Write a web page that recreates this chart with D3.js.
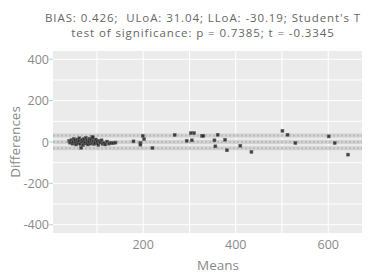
<!DOCTYPE html>
<html>
<head>
<meta charset="utf-8">
<script src="https://cdn.jsdelivr.net/npm/d3@7"></script>
<style>
  body { margin: 0; background: #fff; }
  svg text { font-family: "Open Sans", sans-serif; }
</style>
</head>
<body>
<div id="chart"></div>
<script>
var W = 372, H = 273;
var margin = {top: 51, right: 10, bottom: 40, left: 53};

var titleLines = ["BIAS: 0.426;  ULoA: 31.04; LLoA: -30.19; Student's T",
                  "test of significance: p = 0.7385; t = -0.3345"];
var xTicks = [200, 400, 600];
var yTicks = [-400, -200, 0, 200, 400];
var refLines = [31.04, 0.426, -30.19];

// means / differences
var means = [40,42,45,47,48,50,52,53,55,56,58,60,61,62,64,65,66,67,68,70,
             71,72,74,75,76,78,79,80,82,83,84,86,87,88,90,90,91,92,94,95,
             96,98,100,101,103,105,107,110,112,115,118,122,126,130,135,140,
             179,194,194,199,202,220,268,294,303,310,305,327,330,354,356,361,
             377,381,410,434,501,512,529,601,614,643];
var diffs = [5,-3,10,-8,2,15,-5,8,-12,0,12,-6,4,18,-10,6,-28,-2,10,-15,
             3,14,-7,1,20,-4,8,-12,5,-1,16,-8,2,11,-5,25,22,0,-10,7,
             -3,12,-6,3,-14,5,-2,8,-9,-4,-12,2,-8,-4,-6,-3,
             3,-5,-13,30,14,-29,34,6,43,43,8,30,30,8,-21,35,
             11,-40,-18,-48,54,35,-5,27,-5,-61];

var svg = d3.select("#chart").append("svg").attr("width", W).attr("height", H);

var x = d3.scaleLinear().domain([5, 673]).range([margin.left, W - margin.right]);
var y = d3.scaleLinear().domain([-440, 440]).range([H - margin.bottom, margin.top]);

svg.append("rect")
  .attr("x", margin.left).attr("y", margin.top)
  .attr("width", W - margin.right - margin.left)
  .attr("height", H - margin.bottom - margin.top)
  .attr("fill", "#ebebeb");

// grid
svg.append("g").selectAll("line")
  .data(d3.range(100, 673, 100))
  .join("line")
  .attr("x1", d => x(d)).attr("x2", d => x(d))
  .attr("y1", margin.top).attr("y2", H - margin.bottom)
  .attr("stroke", "#fff").attr("stroke-width", 1);
svg.append("g").selectAll("line")
  .data(d3.range(-400, 401, 100))
  .join("line")
  .attr("x1", margin.left).attr("x2", W - margin.right)
  .attr("y1", d => y(d)).attr("y2", d => y(d))
  .attr("stroke", "#fff").attr("stroke-width", 1);

// bias / limits of agreement
svg.append("g").selectAll("line")
  .data(refLines)
  .join("line")
  .attr("x1", margin.left).attr("x2", W - margin.right)
  .attr("y1", d => y(d)).attr("y2", d => y(d))
  .attr("stroke", "#d3d3d3").attr("stroke-width", 4);
svg.append("g").selectAll("line")
  .data(refLines)
  .join("line")
  .attr("x1", margin.left).attr("x2", W - margin.right)
  .attr("y1", d => y(d)).attr("y2", d => y(d))
  .attr("stroke", "#bdbdbd").attr("stroke-width", 2)
  .attr("stroke-dasharray", "2,2");

// points
svg.append("g").selectAll("rect")
  .data(means.map((m, i) => [m, diffs[i]]))
  .join("rect")
  .attr("x", d => x(d[0]) - 1.5).attr("y", d => y(d[1]) - 1.5)
  .attr("width", 3).attr("height", 3)
  .attr("fill", "#222").attr("fill-opacity", 0.85)
  .attr("stroke", "#666").attr("stroke-width", 0.5);

// axes
var ga = svg.append("g").attr("fill", "#8a8a8a").attr("font-size", 12.5);
ga.selectAll(".yt").data(yTicks).join("text")
  .attr("x", margin.left - 4).attr("y", d => y(d) + 4.5)
  .attr("text-anchor", "end").text(d => d);
ga.selectAll(".ytk").data(yTicks).join("line")
  .attr("x1", margin.left - 4).attr("x2", margin.left)
  .attr("y1", d => y(d)).attr("y2", d => y(d))
  .attr("stroke", "#ccc");
ga.selectAll(".xt").data(xTicks).join("text")
  .attr("x", d => x(d)).attr("y", H - margin.bottom + 16)
  .attr("text-anchor", "middle").text(d => d);

svg.append("text")
  .attr("transform", "translate(20," + y(0) + ") rotate(-90)")
  .attr("text-anchor", "middle").attr("fill", "#8a8a8a").attr("font-size", 13.5)
  .text("Differences");
svg.append("text")
  .attr("x", 218).attr("y", 270)
  .attr("text-anchor", "middle").attr("fill", "#8a8a8a").attr("font-size", 13.5)
  .text("Means");

svg.append("g").selectAll("text")
  .data(titleLines)
  .join("text")
  .attr("x", 203).attr("y", (d, i) => 22 + i * 15)
  .attr("text-anchor", "middle").attr("fill", "#666").attr("font-size", 11.5)
  .attr("letter-spacing", "0.9px")
  .style("white-space", "pre")
  .text(d => d);
</script>
</body>
</html>
